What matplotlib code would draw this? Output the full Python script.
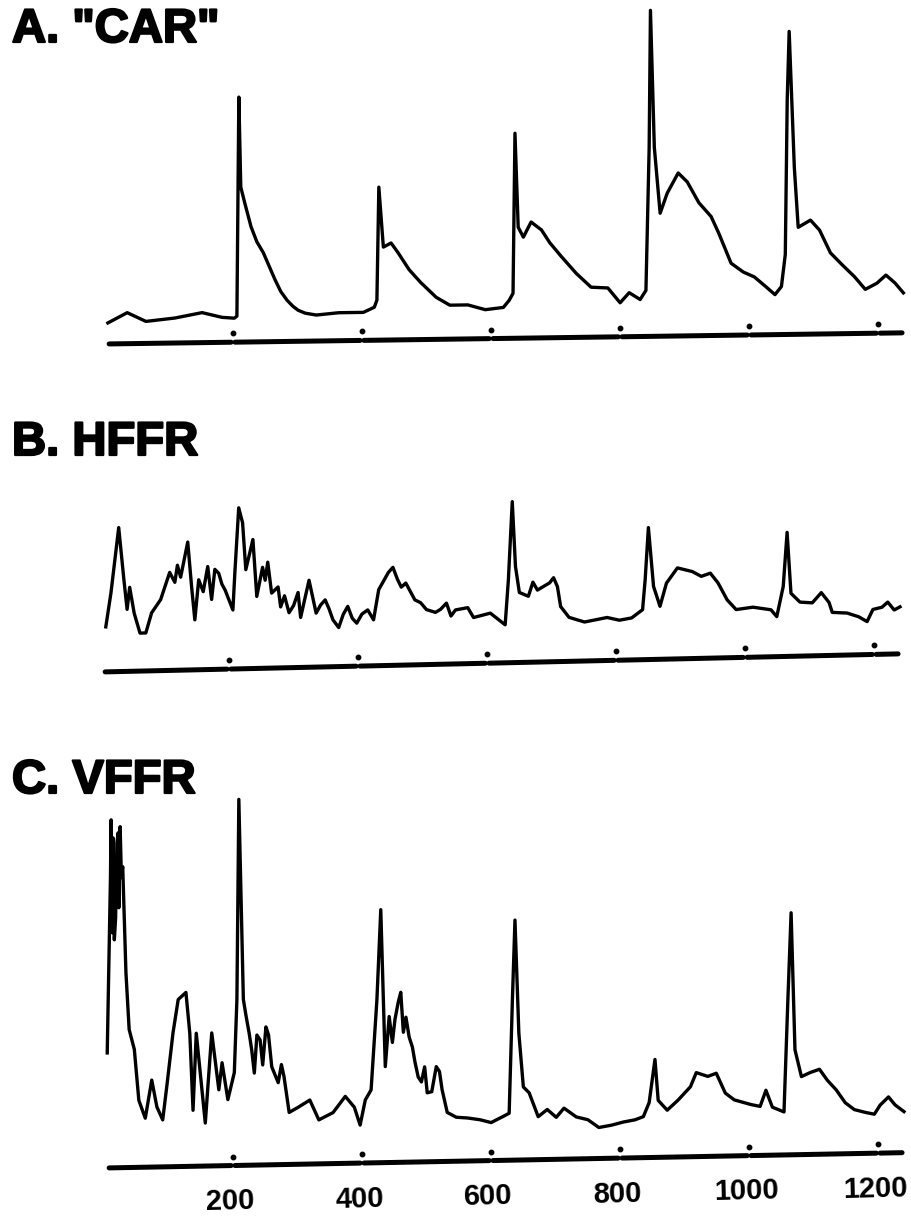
import matplotlib
matplotlib.use("Agg")
import matplotlib.pyplot as plt
import matplotlib.patheffects as pe
from matplotlib.transforms import Affine2D

plt.rcParams['font.family'] = ['Liberation Sans', 'DejaVu Sans']

# trace samples: x in sample units, y = height above the baseline
car_x = [6, 36, 65, 110, 152, 183, 202, 206, 209, 212, 219, 228, 237, 247, 257, 265, 274, 284, 293, 301,
         312, 329, 364, 402, 419, 423, 426, 433, 445, 456, 473, 491, 515, 536, 564, 591, 619, 628, 634, 637,
         642, 650, 662, 678, 691, 709, 732, 755, 781, 800, 814, 831, 840, 845, 847, 853, 862, 873, 890, 904,
         922, 941, 953, 972, 991, 1008, 1026, 1040, 1050, 1056, 1059, 1062, 1070, 1076, 1095, 1109, 1126, 1144, 1163, 1180,
         1198, 1212, 1226, 1239]
car_y = [21, 31, 22, 25, 30, 25, 24, 26, 245, 155, 137, 115, 100, 89, 74, 62, 50, 41, 35, 31,
         28, 26, 28, 28, 33, 40, 153, 93, 97, 87, 70, 57, 42, 34, 34, 29, 31, 38, 45, 205,
         111, 101, 116, 108, 95, 81, 64, 50, 49, 34, 44, 37, 46, 189, 326, 189, 123, 143, 163, 154,
         133, 119, 102, 72, 63, 58, 48, 40, 48, 80, 235, 303, 167, 107, 114, 104, 81, 69, 57, 44,
         50, 58, 50, 40]

hffr_x = [9, 17, 29, 37, 42, 46, 53, 62, 71, 80, 94, 108, 116, 120, 125, 136, 142, 147, 153, 160,
          167, 173, 178, 184, 189, 194, 206, 209, 215, 221, 226, 237, 243, 252, 256, 260, 266, 276, 280, 286,
          293, 300, 307, 311, 318, 324, 335, 342, 349, 355, 361, 370, 377, 384, 391, 398, 406, 415, 424, 432,
          447, 454, 461, 467, 474, 488, 497, 506, 520, 528, 537, 544, 551, 570, 579, 605, 628, 633, 639, 644,
          650, 664, 671, 678, 697, 703, 709, 714, 727, 751, 786, 805, 824, 841, 845, 850, 858, 868, 878, 895,
          918, 932, 946, 958, 972, 986, 1012, 1040, 1049, 1059, 1065, 1071, 1085, 1104, 1118, 1130, 1135, 1158, 1176, 1189,
          1198, 1212, 1221, 1231, 1240]
hffr_y = [45, 79, 144, 92, 62, 84, 58, 38, 38, 58, 71, 98, 88, 105, 93, 128, 83, 50, 90, 78,
          103, 70, 100, 96, 85, 79, 59, 96, 161, 146, 99, 129, 72, 101, 88, 106, 75, 81, 61, 72,
          55, 62, 75, 50, 70, 87, 54, 62, 67, 58, 47, 39, 52, 60, 48, 43, 52, 56, 46, 76,
          93, 98, 86, 78, 82, 65, 62, 55, 52, 55, 61, 48, 54, 56, 46, 50, 38, 83, 161, 96,
          70, 66, 80, 72, 79, 84, 75, 55, 44, 39, 43, 40, 42, 50, 80, 132, 73, 53, 76, 91,
          87, 82, 85, 75, 58, 48, 50, 47, 40, 70, 124, 63, 54, 53, 63, 53, 43, 42, 38, 33,
          45, 47, 52, 44, 47]

vffr_x = [5, 8, 10, 11, 13, 14, 16, 18, 20, 22, 23, 25, 27, 29, 34, 39, 47, 54, 64, 74,
          82, 91, 98, 107, 115, 127, 133, 138, 143, 157, 167, 178, 183, 192, 202, 206, 209, 216, 220, 225,
          229, 233, 237, 242, 246, 251, 255, 260, 265, 270, 275, 279, 287, 301, 319, 333, 355, 374, 388, 397,
          405, 414, 423, 429, 436, 442, 447, 451, 456, 460, 464, 468, 473, 478, 482, 487, 492, 497, 501, 508,
          515, 520, 524, 532, 546, 564, 583, 600, 619, 628, 633, 637, 643, 650, 659, 673, 687, 701, 713, 732,
          750, 767, 786, 805, 823, 836, 845, 854, 859, 873, 890, 909, 918, 936, 949, 963, 977, 1003, 1017, 1026,
          1036, 1054, 1060, 1065, 1071, 1081, 1095, 1109, 1121, 1135, 1149, 1163, 1180, 1194, 1203, 1216, 1226, 1240]
vffr_y = [115, 218, 290, 348, 235, 330, 228, 250, 325, 335, 260, 341, 290, 301, 195, 138, 118, 67, 49, 87,
          60, 47, 84, 134, 167, 174, 133, 56, 133, 43, 133, 76, 103, 66, 93, 166, 366, 166, 150, 132,
          115, 92, 130, 125, 100, 138, 130, 98, 90, 82, 100, 88, 52, 57, 64, 44, 51, 67, 56, 38,
          63, 73, 163, 253, 96, 146, 120, 143, 160, 170, 130, 145, 125, 115, 100, 85, 80, 95, 69, 70,
          95, 90, 72, 49, 44, 43, 41, 38, 44, 47, 160, 240, 127, 73, 67, 43, 50, 42, 51, 42,
          39, 31, 33, 36, 38, 41, 55, 98, 57, 47, 57, 70, 84, 80, 83, 63, 56, 51, 49, 65,
          48, 43, 155, 242, 105, 78, 82, 85, 74, 64, 51, 44, 41, 39, 48, 56, 48, 41]

tick_values = [200, 400, 600, 800, 1000, 1200]
tick_labels = ["200", "400", "600", "800", "1000", "1200"]
panel_titles = ['A. "CAR"', 'B. HFFR', 'C. VFFR']

W, H = 912, 1218
fig = plt.figure(figsize=(W / 100, H / 100), dpi=100)

# (left px, baseline px from top, tilt of the scan in degrees, title centre y px)
panels = [
    (car_x, car_y, 104, 344, 0.8, 30),
    (hffr_x, hffr_y, 100, 672, 1.3, 443),
    (vffr_x, vffr_y, 104, 1168, 1.1, 781),
]

for i, (xs, ys, left, base, tilt, title_y) in enumerate(panels):
    assert len(xs) == len(ys)
    ax = fig.add_axes([left / W, 1 - (base + 60) / H, 800 / W, 460 / H])
    ax.set_xlim(0, 1240)
    ax.set_ylim(-60, 400)
    ax.axis("off")
    ax.patch.set_alpha(0)

    x0, y0 = ax.transData.transform((0, 0))
    trans = ax.transData + Affine2D().translate(-x0, -y0).skew_deg(0, tilt).translate(x0, y0)

    ax.plot(xs, ys, color="black", lw=2.4, transform=trans, clip_on=False)

    # thick baseline broken at each tick, with a dot above every tick
    edges = [5] + tick_values + [1240]
    for a, b in zip(edges[:-1], edges[1:]):
        ax.plot([a + 3, b - 3], [0, 0], color="black", lw=3.6, transform=trans,
                solid_capstyle="round", clip_on=False)
    ax.plot(tick_values, [9] * len(tick_values), "o", color="black", ms=3.2,
            transform=trans, clip_on=False)

    if i == 2:
        for v, lab in zip(tick_values, tick_labels):
            ax.text(v - 4, -36, lab, transform=trans, ha="center", va="center",
                    fontsize=21, fontweight="bold", rotation=tilt + 0.3)

    fig.text(12 / W, 1 - title_y / H, panel_titles[i], fontsize=34, fontweight="bold",
             ha="left", va="center",
             path_effects=[pe.withStroke(linewidth=1.6, foreground="black")])

fig.savefig("out.png", dpi=100)
